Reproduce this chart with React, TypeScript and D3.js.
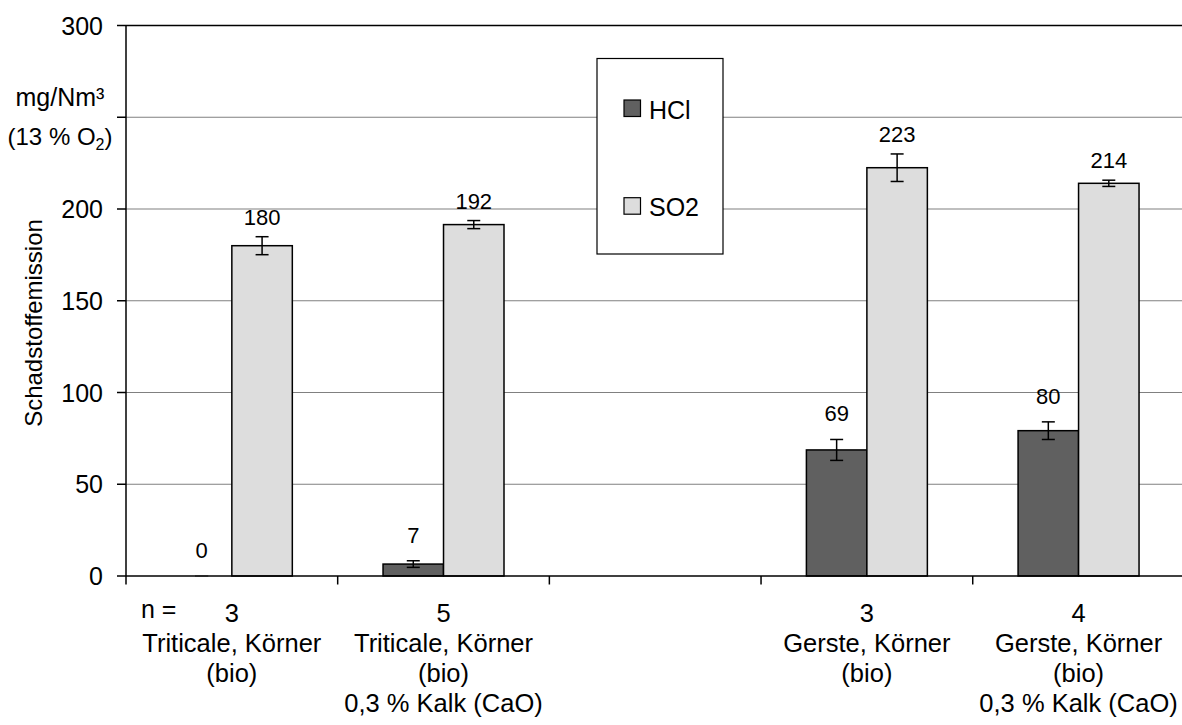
import React from "react";
import * as d3 from "d3";

const categories = ["c1", "c2", "c3", "c4", "c5"];
const nValues = ["3", "5", "", "3", "4"];
const catLines = [
  ["Triticale, Körner", "(bio)"],
  ["Triticale, Körner", "(bio)", "0,3 % Kalk (CaO)"],
  [],
  ["Gerste, Körner", "(bio)"],
  ["Gerste, Körner", "(bio)", "0,3 % Kalk (CaO)"],
];
const seriesNames = ["HCl", "SO2"];
const hclValues = [0, 6.5, null, 68.7, 79.2];
const hclErrors = [0, 1.8, null, 5.7, 4.8];
const hclLabels = ["0", "7", "", "69", "80"];
const so2Values = [180, 191.5, null, 222.5, 214];
const so2Errors = [4.9, 2.2, null, 7.5, 1.7];
const so2Labels = ["180", "192", "", "223", "214"];
const yTicks = [0, 50, 100, 150, 200, 250, 300];
const yTickLabels = ["0", "50", "100", "150", "200", "", "300"];

const W = 1182;
const H = 725;
const FONT = "'Liberation Sans', Arial, sans-serif";
const COLORS: Record<string, string> = { HCl: "#606060", SO2: "#dddddd" };

export default function App() {
  const left = 126;
  const right = 1184.4;
  const top = 25.5;
  const bottom = 576;

  const x = d3.scaleBand<string>().domain(categories).range([left, right]).paddingInner(0).paddingOuter(0);
  const xs = d3.scaleBand<string>().domain(seriesNames).range([0, x.bandwidth()]).paddingInner(0).paddingOuter(0.75);
  const y = d3.scaleLinear().domain([0, 300]).range([bottom, top]);

  const series = [
    { name: "HCl", values: hclValues, errors: hclErrors, labels: hclLabels, lift: 18 },
    { name: "SO2", values: so2Values, errors: so2Errors, labels: so2Labels, lift: 12 },
  ];

  const lineH = 30;
  const firstBase = 622;

  return (
    <svg width={W} height={H} style={{ position: "absolute", left: 0, top: 0, background: "#fff" }} fontFamily={FONT}>
      <rect x={0} y={0} width={W} height={H} fill="#fff" />
      {/* gridlines */}
      {yTicks.filter((t) => t > 0).map((t) => (
        <line key={"g" + t} x1={left} x2={right} y1={y(t)} y2={y(t)} stroke={t === 300 ? "#000" : "#808080"} strokeWidth={t === 300 ? 1.5 : 1.2} />
      ))}
      {/* bars */}
      {series.map((s) =>
        categories.map((c, i) => {
          const v = s.values[i];
          if (v === null) return null;
          const bx = (x(c) as number) + (xs(s.name) as number);
          const bw = xs.bandwidth();
          const e = s.errors[i] as number;
          const cx = bx + bw / 2;
          return (
            <g key={s.name + c}>
              {v > 0 && (
                <rect x={bx} y={y(v)} width={bw} height={y(0) - y(v)} fill={COLORS[s.name]} stroke="#000" strokeWidth={1.5} />
              )}
              <line x1={cx} x2={cx} y1={y(v + e)} y2={y(Math.max(0, v - e))} stroke="#000" strokeWidth={1.5} />
              <line x1={cx - 6.5} x2={cx + 6.5} y1={y(v + e)} y2={y(v + e)} stroke="#000" strokeWidth={1.5} />
              <line x1={cx - 6.5} x2={cx + 6.5} y1={y(Math.max(0, v - e))} y2={y(Math.max(0, v - e))} stroke={v === 0 ? "#bbb" : "#000"} strokeWidth={1.5} />
              <text x={cx} y={y(v + e) - s.lift} textAnchor="middle" fontSize={22} fill="#000">
                {s.labels[i]}
              </text>
            </g>
          );
        })
      )}
      {/* axes */}
      <line x1={left} x2={left} y1={top} y2={bottom} stroke="#000" strokeWidth={1.5} />
      <line x1={left} x2={right} y1={bottom} y2={bottom} stroke="#000" strokeWidth={1.5} />
      {yTicks.map((t, i) => (
        <g key={"t" + t}>
          <line x1={left - 9} x2={left} y1={y(t)} y2={y(t)} stroke="#000" strokeWidth={1.5} />
          <text x={103} y={y(t) + 9} textAnchor="end" fontSize={25} fill="#000">
            {yTickLabels[i]}
          </text>
        </g>
      ))}
      {d3.range(categories.length + 1).map((i) => {
        const xx = left + i * x.step();
        return <line key={"xt" + i} x1={xx} x2={xx} y1={bottom} y2={bottom + 8.5} stroke="#000" strokeWidth={1.5} />;
      })}
      {/* category labels */}
      <text x={141} y={618} fontSize={25} fill="#000">n =</text>
      {categories.map((c, i) => {
        const cx = (x(c) as number) + x.bandwidth() / 2;
        return (
          <text key={"cl" + c} textAnchor="middle" fontSize={25.5} fill="#000">
            <tspan x={cx} y={firstBase}>{nValues[i]}</tspan>
            {catLines[i].map((l, j) => (
              <tspan key={j} x={cx} y={firstBase + lineH * (j + 1)}>{l}</tspan>
            ))}
          </text>
        );
      })}
      {/* y axis title and unit */}
      <text transform={`translate(42, 323) rotate(-90)`} textAnchor="middle" fontSize={24} fill="#000">
        Schadstoffemission
      </text>
      <text x={60} y={106} textAnchor="middle" fontSize={25} fill="#000">mg/Nm³</text>
      <text x={60} y={145} textAnchor="middle" fontSize={24} fill="#000">
        (13 % O<tspan fontSize={16} dy={5}>2</tspan><tspan dy={-5}>)</tspan>
      </text>
      {/* legend */}
      <rect x={597} y={58.5} width={126} height={195.5} fill="#fff" stroke="#000" strokeWidth={1.2} />
      {seriesNames.map((n, i) => (
        <g key={"lg" + n}>
          <rect x={624} y={100 + i * 97.7} width={16.5} height={16.5} fill={COLORS[n]} stroke="#000" strokeWidth={1.2} />
          <text x={649} y={118.5 + i * 97.7} fontSize={25} fill="#000">{n}</text>
        </g>
      ))}
    </svg>
  );
}
